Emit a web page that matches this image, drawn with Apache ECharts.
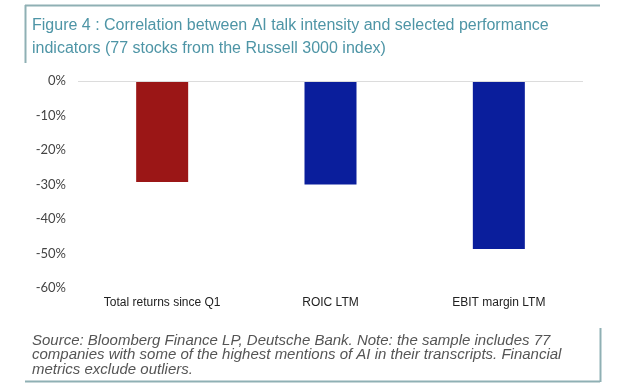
<!DOCTYPE html>
<html>
<head>
<meta charset="utf-8">
<script src="https://cdn.jsdelivr.net/npm/echarts@6/dist/echarts.min.js"></script>
<style>
html,body{margin:0;padding:0;background:#fff;}
#c{width:620px;height:391px;}
</style>
</head>
<body>
<div id="c"></div>
<script>
var categories = ["Total returns since Q1", "ROIC LTM", "EBIT margin LTM"];
var values = [-29.3, -30, -48.7];
var barColors = ["#9B1616", "#0A1E9C", "#0A1E9C"];
var yTicks = [0, -10, -20, -30, -40, -50, -60];
var titleLines = ["Figure 4 : Correlation between AI talk intensity and selected performance", "indicators (77 stocks from the Russell 3000 index)"];
var noteLines = ["Source: Bloomberg Finance LP, Deutsche Bank. Note: the sample includes 77", "companies with some of the highest mentions of AI in their transcripts. Financial", "metrics exclude outliers."];

var chart = echarts.init(document.getElementById('c'), null, {renderer: 'canvas'});
var frameColor = "#8FB0B4";
chart.setOption({
  animation: false,
  backgroundColor: "#ffffff",
  grid: {left: 78, right: 37, top: 81, bottom: 103},
  xAxis: {
    type: 'category',
    data: categories,
    position: 'bottom',
    axisLine: {show: false, onZero: false},
    axisTick: {show: false},
    axisLabel: {color: "#222", fontFamily: "Liberation Sans, Arial", fontSize: 12, margin: 9}
  },
  yAxis: {
    type: 'value',
    min: -60, max: 0, interval: 10,
    axisLine: {show: false},
    axisTick: {show: false},
    splitLine: {show: false},
    axisLabel: {color: "#444", fontFamily: "Lato, Liberation Sans", fontSize: 13, margin: 12,
      formatter: function (v) { return v + "%"; }}
  },
  series: [{
    type: 'bar',
    barWidth: 52,
    data: values.map(function (v, i) { return {value: v, itemStyle: {color: barColors[i]}}; }),
    markLine: {
      silent: true, symbol: ['none', 'none'], label: {show: false},
      lineStyle: {color: "#dcdcdc", type: 'solid', width: 1},
      data: [{yAxis: 0}]
    }
  }],
  graphic: [
    {type: 'line', shape: {x1: 25, y1: 5.5, x2: 600, y2: 5.5}, style: {stroke: frameColor, lineWidth: 2}},
    {type: 'line', shape: {x1: 25.5, y1: 5, x2: 25.5, y2: 63}, style: {stroke: frameColor, lineWidth: 2}},
    {type: 'text', left: 32, top: 14, style: {text: titleLines.join("\n"), fill: "#4E95A6", font: "16px 'Liberation Sans', Arial", lineHeight: 23}},
    {type: 'line', shape: {x1: 25, y1: 381.5, x2: 600, y2: 381.5}, style: {stroke: frameColor, lineWidth: 2}},
    {type: 'line', shape: {x1: 600.5, y1: 328, x2: 600.5, y2: 382}, style: {stroke: frameColor, lineWidth: 2}},
    {type: 'text', left: 32, top: 333, style: {text: noteLines.join("\n"), fill: "#555", font: "italic 15px 'Liberation Sans', Arial", lineHeight: 14.5}}
  ]
});
</script>
</body>
</html>
